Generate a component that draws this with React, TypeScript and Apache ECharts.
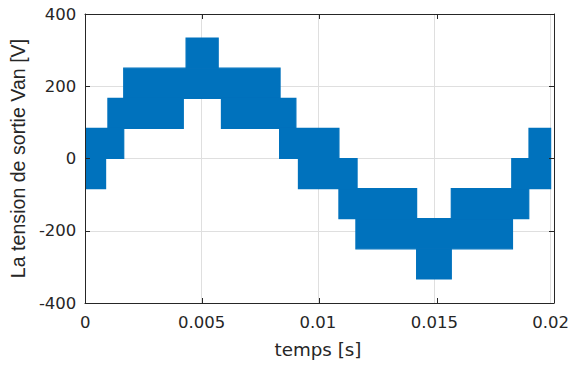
import React, { useEffect, useRef } from "react";
import * as echarts from "echarts";

// Switching bands of the multilevel output voltage: in each time window the
// signal toggles between a lower and an upper level.
const bandStart = [0, 0, 0.00097, 0.00165, 0.00433, 0.00585, 0.00835, 0.00916, 0.0109, 0.01163, 0.01424, 0.01573, 0.01833, 0.01907];
const bandEnd = [0.00087, 0.00165, 0.00421, 0.00837, 0.00571, 0.00905, 0.0109, 0.01168, 0.01424, 0.01836, 0.01573, 0.01906, 0.02, 0.02];
const bandLow = [-83.3, 0, 83.3, 166.7, 250, 83.3, 0, -83.3, -166.7, -250, -333.3, -166.7, -83.3, 0];
const bandHigh = [0, 83.3, 166.7, 250, 333.3, 166.7, 83.3, 0, -83.3, -166.7, -250, -83.3, 0, 83.3];

const xTicks = [0, 0.005, 0.01, 0.015, 0.02];
const yTicks = [-400, -200, 0, 200, 400];
const xLabel = "temps [s]";
const yLabel = "La tension de sortie Van [V]";

const INK = "#262626";
const BLUE = "#0072BD";

export default function App() {
  const ref = useRef<HTMLDivElement>(null);
  useEffect(() => {
    if (!ref.current) return;
    const chart = echarts.init(ref.current, null, { renderer: "svg" });
    const data = bandStart.map((s, i) => [s, bandEnd[i], bandLow[i], bandHigh[i]]);
    const xMin = xTicks[0], xMax = xTicks[xTicks.length - 1], xStep = xTicks[1] - xTicks[0];
    const yMin = yTicks[0], yMax = yTicks[yTicks.length - 1], yStep = yTicks[1] - yTicks[0];
    const gridRect = { left: 85, top: 14, right: 18, bottom: 64 };
    const fmt = (v: number) => String(parseFloat(v.toFixed(4)));
    const frameX = (pos: string) => ({
      type: "value", gridIndex: 1, position: pos, min: xMin, max: xMax, interval: xStep, z: 10,
      axisLine: { show: true, onZero: false, lineStyle: { color: INK, width: 1 } },
      axisTick: { show: true, inside: true, length: 5, lineStyle: { color: INK } },
      axisLabel: { show: false }, splitLine: { show: false },
    });
    const frameY = (pos: string) => ({
      type: "value", gridIndex: 1, position: pos, min: yMin, max: yMax, interval: yStep, z: 10,
      axisLine: { show: true, onZero: false, lineStyle: { color: INK, width: 1 } },
      axisTick: { show: true, inside: true, length: 5, lineStyle: { color: INK } },
      axisLabel: { show: false }, splitLine: { show: false },
    });
    chart.setOption({
      animation: false,
      backgroundColor: "#ffffff",
      grid: [{ ...gridRect }, { ...gridRect }],
      xAxis: [
        {
          type: "value", gridIndex: 0, position: "bottom", min: xMin, max: xMax, interval: xStep,
          axisLine: { show: false }, axisTick: { show: false },
          axisLabel: { show: true, margin: 11, color: INK, fontFamily: "DejaVu Sans", fontSize: 16.5, formatter: fmt },
          splitLine: { show: true, lineStyle: { color: "#dfdfdf", width: 1 } },
          name: xLabel, nameLocation: "middle", nameGap: 37,
          nameTextStyle: { color: INK, fontFamily: "DejaVu Sans", fontSize: 18.3 },
        },
        frameX("bottom"),
        frameX("top"),
      ],
      yAxis: [
        {
          type: "value", gridIndex: 0, position: "left", min: yMin, max: yMax, interval: yStep,
          axisLine: { show: false }, axisTick: { show: false },
          axisLabel: { show: true, margin: 9, color: INK, fontFamily: "DejaVu Sans", fontSize: 16.5 },
          splitLine: { show: true, lineStyle: { color: "#dfdfdf", width: 1 } },
          name: yLabel, nameLocation: "middle", nameGap: 54,
          nameTextStyle: { color: INK, fontFamily: "Liberation Sans", fontSize: 19.6 },
        },
        frameY("left"),
        frameY("right"),
      ],
      series: [
        {
          type: "custom",
          xAxisIndex: 0,
          yAxisIndex: 0,
          clip: true,
          z: 2,
          encode: { x: [0, 1], y: [2, 3] },
          data,
          renderItem: (params: any, api: any) => {
            const p1 = api.coord([api.value(0), api.value(3)]);
            const p2 = api.coord([api.value(1), api.value(2)]);
            return {
              type: "rect",
              shape: { x: p1[0], y: p1[1], width: p2[0] - p1[0], height: p2[1] - p1[1] },
              style: { fill: BLUE, stroke: BLUE, lineWidth: 1.2 },
            };
          },
        },
      ],
    });
    return () => chart.dispose();
  }, []);
  return (
    <div
      ref={ref}
      style={{ position: "fixed", left: 0, top: 0, width: 572, height: 367, background: "#fff" }}
    />
  );
}
